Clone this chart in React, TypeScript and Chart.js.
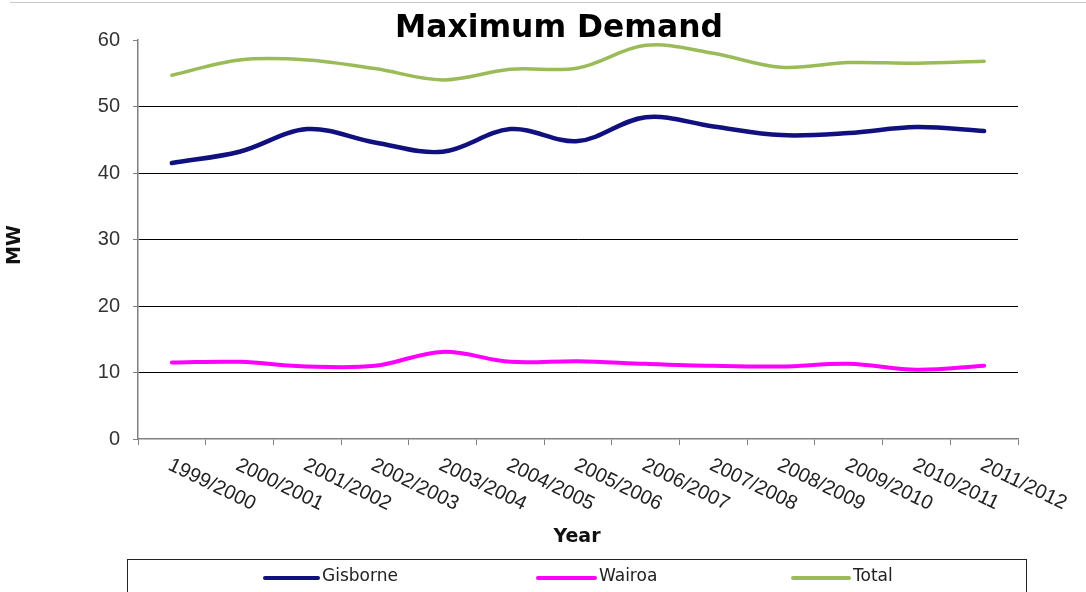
import React, { useEffect, useRef } from "react";
import { Chart, registerables } from "chart.js";

Chart.register(...registerables);

const years = [
  "1999/2000", "2000/2001", "2001/2002", "2002/2003", "2003/2004", "2004/2005", "2005/2006",
  "2006/2007", "2007/2008", "2008/2009", "2009/2010", "2010/2011", "2011/2012",
];
const gisborne = [41.5, 43.2, 46.6, 44.6, 43.2, 46.6, 44.8, 48.4, 47.0, 45.7, 46.0, 46.9, 46.3];
const wairoa = [11.5, 11.6, 10.9, 11.0, 13.1, 11.6, 11.7, 11.3, 11.0, 10.9, 11.3, 10.4, 11.0];
const total = [54.7, 57.0, 57.0, 55.7, 54.0, 55.6, 55.8, 59.2, 58.0, 55.9, 56.6, 56.5, 56.8];
const yTicks = [0, 10, 20, 30, 40, 50, 60];

const COLORS = { gisborne: "#10107e", wairoa: "#ff00ff", total: "#9bbb59" };
const SANS = "'Liberation Sans', Arial, sans-serif";
const VERDANA = "'DejaVu Sans', Verdana, sans-serif";

const decorations = {
  id: "decorations",
  afterDraw(chart: any) {
    const ctx = chart.ctx as CanvasRenderingContext2D;
    const xScale = chart.scales.x;
    ctx.save();

    // faint frame line along the top
    ctx.strokeStyle = "#c8c8c8";
    ctx.lineWidth = 1;
    ctx.beginPath();
    ctx.moveTo(10, 2.5);
    ctx.lineTo(1086, 2.5);
    ctx.stroke();

    // title, sized to its span
    ctx.fillStyle = "#000";
    ctx.font = `bold 100px ${VERDANA}`;
    const w100 = ctx.measureText("Maximum Demand").width;
    const titleSize = (328 / w100) * 100;
    ctx.font = `bold ${titleSize}px ${VERDANA}`;
    ctx.textAlign = "center";
    ctx.textBaseline = "alphabetic";
    ctx.fillText("Maximum Demand", 559, 37);

    // y-axis title
    ctx.save();
    ctx.translate(15, 245);
    ctx.rotate(-Math.PI / 2);
    ctx.font = `bold 19px ${VERDANA}`;
    ctx.textAlign = "center";
    ctx.textBaseline = "middle";
    ctx.fillStyle = "#111";
    ctx.fillText("MW", 0, 0);
    ctx.restore();

    // rotated category labels
    ctx.font = `20px ${SANS}`;
    ctx.fillStyle = "#222";
    ctx.textAlign = "left";
    ctx.textBaseline = "top";
    years.forEach((label, i) => {
      const x = xScale.getPixelForValue(i);
      ctx.save();
      ctx.translate(x + 2, 455);
      ctx.rotate((26 * Math.PI) / 180);
      ctx.fillText(label, 0, 0);
      ctx.restore();
    });

    // x-axis title
    ctx.font = `bold 19px ${VERDANA}`;
    ctx.fillStyle = "#111";
    ctx.textAlign = "center";
    ctx.textBaseline = "middle";
    ctx.fillText("Year", 577, 537);

    // legend box
    ctx.strokeStyle = "#222";
    ctx.lineWidth = 1;
    ctx.strokeRect(127.5, 559.5, 899, 60);

    const items = [
      { label: "Gisborne", color: COLORS.gisborne, x0: 265, x1: 318 },
      { label: "Wairoa", color: COLORS.wairoa, x0: 538, x1: 595 },
      { label: "Total", color: COLORS.total, x0: 793, x1: 849 },
    ];
    ctx.font = `17px ${VERDANA}`;
    ctx.textAlign = "left";
    ctx.textBaseline = "middle";
    items.forEach((it) => {
      ctx.strokeStyle = it.color;
      ctx.lineWidth = 4;
      ctx.lineCap = "round";
      ctx.beginPath();
      ctx.moveTo(it.x0, 578);
      ctx.lineTo(it.x1, 578);
      ctx.stroke();
      ctx.fillStyle = "#222";
      ctx.fillText(it.label, it.x1 + 4, 577);
    });

    ctx.restore();
  },
};

export default function App() {
  const canvasRef = useRef<HTMLCanvasElement | null>(null);

  useEffect(() => {
    if (!canvasRef.current) return;
    const chart = new Chart(canvasRef.current, {
      type: "line",
      data: {
        labels: years,
        datasets: [
          { label: "Gisborne", data: gisborne, borderColor: COLORS.gisborne, borderWidth: 4.5 },
          { label: "Wairoa", data: wairoa, borderColor: COLORS.wairoa, borderWidth: 4 },
          { label: "Total", data: total, borderColor: COLORS.total, borderWidth: 3.5 },
        ].map((d) => ({
          ...d,
          tension: 0.35,
          pointRadius: 0,
          pointHoverRadius: 0,
          fill: false,
          borderCapStyle: "round" as const,
          borderJoinStyle: "round" as const,
        })),
      },
      options: {
        responsive: false,
        animation: false,
        events: [],
        layout: { padding: { left: 0, top: 40, right: 68, bottom: 0 } },
        plugins: {
          legend: { display: false },
          title: { display: false },
          tooltip: { enabled: false },
        },
        scales: {
          x: {
            type: "category",
            offset: true,
            grid: {
              offset: true,
              drawOnChartArea: false,
              drawTicks: true,
              tickLength: 6,
              tickColor: "#808080",
            },
            border: { color: "#808080", width: 1.5 },
            ticks: {
              autoSkip: false,
              maxRotation: 0,
              minRotation: 0,
              font: { size: 2 },
              color: "rgba(0,0,0,0)",
              callback: () => "",
            },
            afterFit: (s: any) => {
              s.height = 153;
            },
          },
          y: {
            min: 0,
            max: 60,
            afterBuildTicks: (s: any) => {
              s.ticks = yTicks.map((v) => ({ value: v }));
            },
            grid: {
              color: (c: any) =>
                c.tick && (c.tick.value === 0 || c.tick.value === 60) ? "rgba(0,0,0,0)" : "#000",
              lineWidth: 1,
              drawTicks: true,
              tickLength: 5,
              tickColor: "#808080",
            },
            border: { color: "#808080", width: 1.5 },
            ticks: {
              font: { family: SANS, size: 20 },
              color: "#333",
              padding: 13,
            },
            afterFit: (s: any) => {
              s.width = 138;
            },
          },
        },
      },
      plugins: [decorations],
    });
    return () => chart.destroy();
  }, []);

  return (
    <div style={{ position: "absolute", left: 0, top: 0, width: 1086, height: 592, background: "#fff" }}>
      <canvas ref={canvasRef} width={1086} height={592} />
    </div>
  );
}
